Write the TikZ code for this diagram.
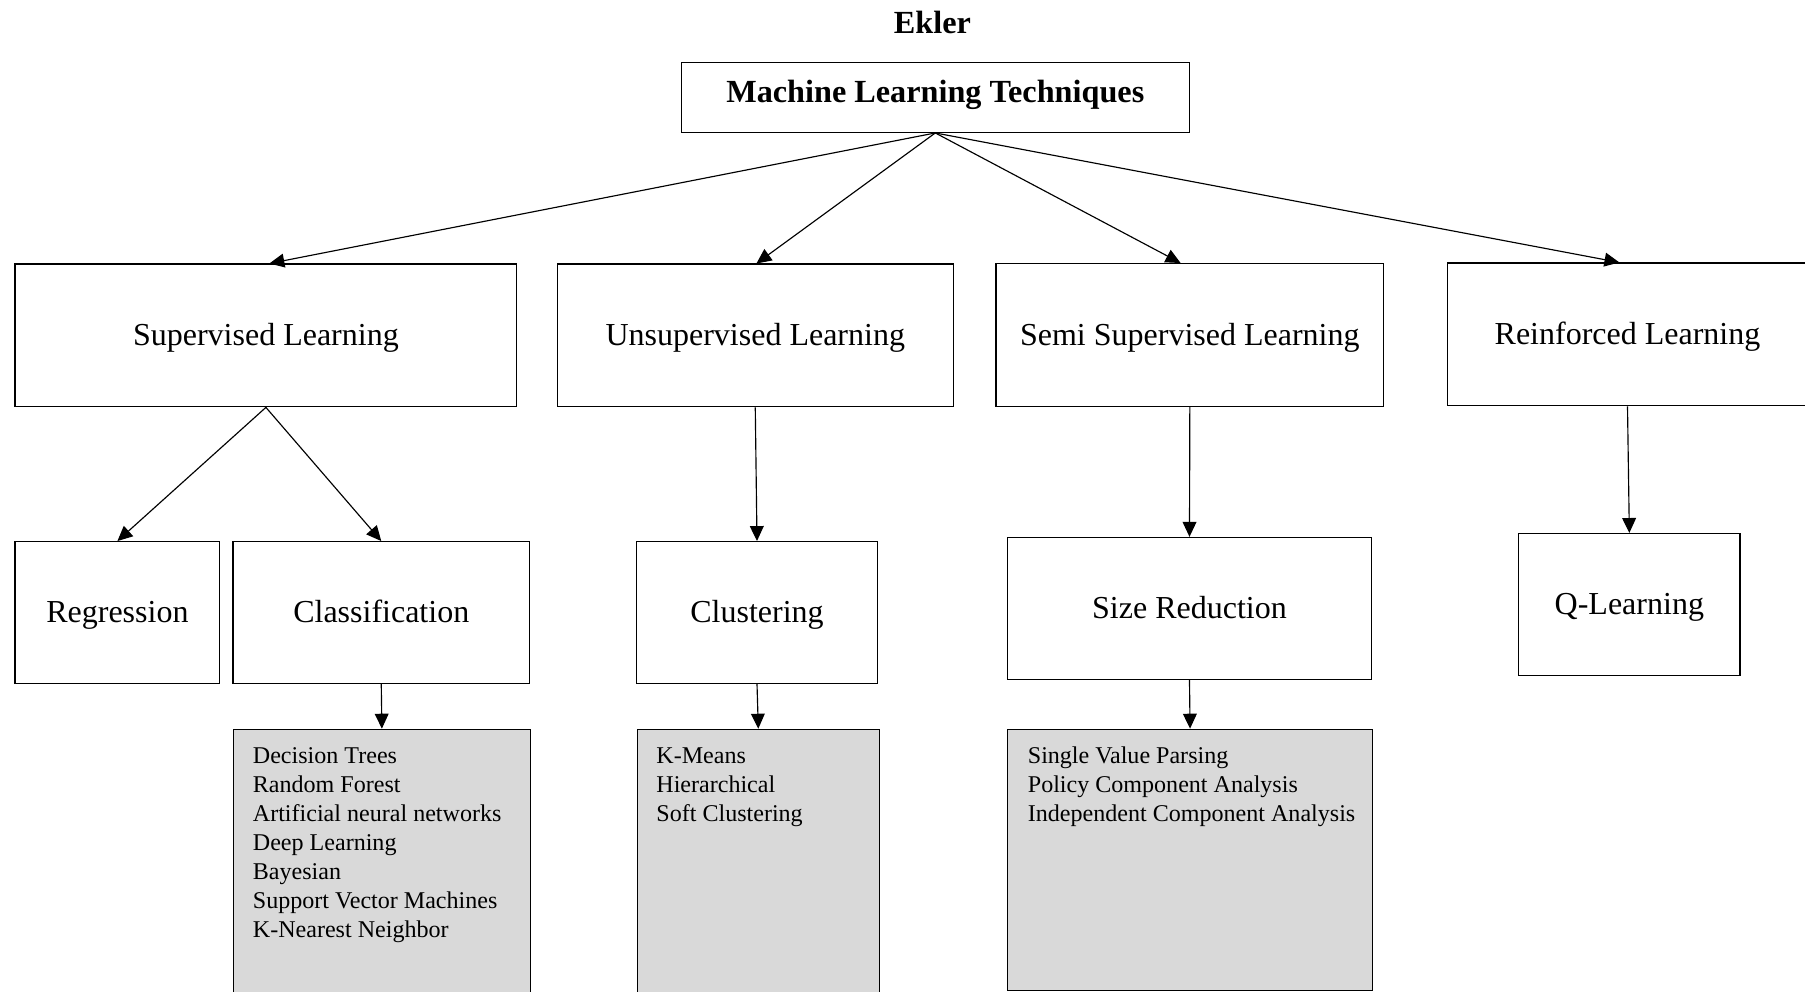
\documentclass[tikz,border=0pt]{standalone}
\usepackage{fontspec}
\setmainfont{Liberation Serif}
\usetikzlibrary{arrows.meta}
\definecolor{listgray}{HTML}{D9D9D9}
\begin{document}
\begin{tikzpicture}[x=1pt,y=-1pt,
  box/.style={draw=black,line width=1pt,fill=white,inner sep=0pt,
    font=\fontsize{27.8}{33}\selectfont,text height=19pt,text depth=1pt},
  listbox/.style={draw=black,line width=1pt,fill=listgray,inner sep=0pt,anchor=north west},
  listtext/.style={anchor=base west,inner sep=0pt,
    font=\fontsize{20.9}{25.2}\selectfont},
  arr/.style={line width=1pt,-{Triangle[length=13pt,width=12pt]}}
]
\useasboundingbox (0,0) rectangle (1568,861);
\clip (0,0) rectangle (1568,861);
\fill[white] (0,0) rectangle (1568,861);

\node[anchor=base,inner sep=0pt,font=\fontsize{28}{32}\selectfont\bfseries] (title) at (810,29.5) {Ekler};
\node[box,minimum width=441pt,minimum height=61pt,font=\fontsize{28}{33}\selectfont\bfseries,text depth=10pt] (mlt) at (812.5,84.5) {Machine Learning Techniques};

\node[box,minimum width=436pt,minimum height=124pt] (sup) at (231,291.4) {Supervised Learning};
\node[box,minimum width=344pt,minimum height=124pt] (unsup) at (656.1,291.4) {Unsupervised Learning};
\node[box,minimum width=336.7pt,minimum height=124pt] (semi) at (1033.6,291) {Semi Supervised Learning};
\node[box,minimum width=313pt,minimum height=124pt] (reinf) at (1413.8,290.5) {Reinforced Learning};

\node[box,minimum width=178pt,minimum height=123pt] (reg) at (102,532) {Regression};
\node[box,minimum width=257.5pt,minimum height=123pt] (cls) at (331.2,532) {Classification};
\node[box,minimum width=209.6pt,minimum height=123pt] (clu) at (657.6,532) {Clustering};
\node[box,minimum width=316.6pt,minimum height=123.3pt] (size) at (1033.3,528.5) {Size Reduction};
\node[box,minimum width=192.2pt,minimum height=123pt] (ql) at (1415.4,525) {Q-Learning};

\node[listbox,minimum width=257.5pt,minimum height=250pt] (clsl) at (202.5,633) {};
\node[listbox,minimum width=210.5pt,minimum height=250pt] (clul) at (553,633) {};
\node[listbox,minimum width=316.6pt,minimum height=226.7pt] (sizel) at (875,633) {};

\node[listtext] (clst) at (219.5,663.2) {\parbox[t]{300pt}{Decision Trees\\Random Forest\\Artificial neural networks\\Deep Learning\\Bayesian\\Support Vector Machines\\K-Nearest Neighbor}};
\node[listtext] (clut) at (570,663.2) {\parbox[t]{200pt}{K-Means\\Hierarchical\\Soft Clustering}};
\node[listtext] (sizet) at (892.7,663.2) {\parbox[t]{300pt}{Single Value Parsing\\Policy Component Analysis\\Independent Component Analysis}};

\draw[arr] (mlt.south) -- ([xshift=3pt]sup.north);
\draw[arr] (mlt.south) -- ([xshift=1pt]unsup.north);
\draw[arr] (mlt.south) -- ([xshift=-8pt]semi.north);
\draw[arr] (mlt.south) -- ([xshift=-7pt]reinf.north);
\draw[arr] (sup.south) -- (reg.north);
\draw[arr] (sup.south) -- (cls.north);
\draw[arr] (unsup.south) -- (clu.north);
\draw[arr] (semi.south) -- (size.north);
\draw[arr] (reinf.south) -- (ql.north);
\draw[arr] (cls.south) -- (clsl.north);
\draw[arr] (clu.south) -- (clul.north);
\draw[arr] (size.south) -- (sizel.north);
\end{tikzpicture}
\end{document}
